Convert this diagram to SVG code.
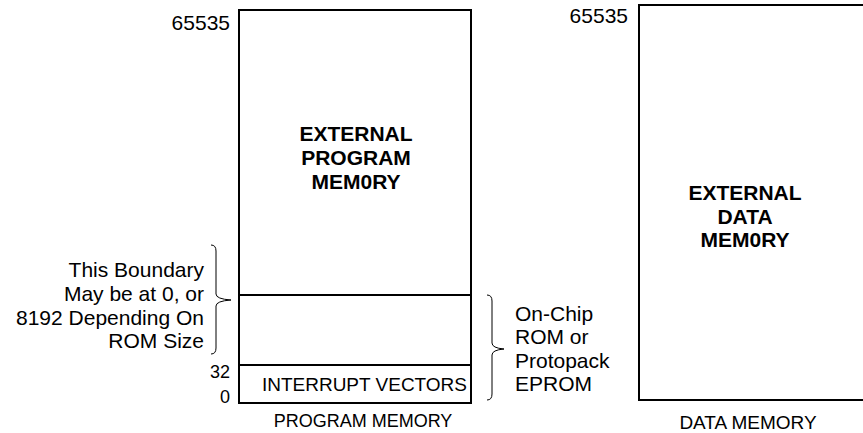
<svg xmlns="http://www.w3.org/2000/svg" width="863" height="433" viewBox="0 0 863 433">
<style>
.box{fill:none;stroke:#000;stroke-width:2}
.ln{stroke:#000;stroke-width:2}
.br{fill:none;stroke:#000;stroke-width:1}
text{font-family:"Liberation Sans",Arial,sans-serif;fill:#000}
.t21{font-size:21px}
.b{font-size:21px;font-weight:bold;text-anchor:middle}
.r{text-anchor:end}
.m{text-anchor:middle}
</style>
<rect width="863" height="433" fill="#fff"/>
<g id="program-memory">
<rect class="box" x="239" y="10" width="232" height="393"/>
<line class="ln" x1="239" y1="295" x2="471" y2="295"/>
<line class="ln" x1="239" y1="365" x2="471" y2="365"/>
<text class="b" x="356" y="141">EXTERNAL</text>
<text class="b" x="356" y="165">PROGRAM</text>
<text class="b" x="356" y="189">MEM0RY</text>
<text x="262" y="391" font-size="19" textLength="205" lengthAdjust="spacingAndGlyphs">INTERRUPT VECTORS</text>
<text class="m" x="363" y="427" font-size="18">PROGRAM MEMORY</text>
<text class="t21 r" x="230" y="30">65535</text>
<text class="r" x="230" y="378" font-size="18">32</text>
<text class="r" x="230" y="403" font-size="18">0</text>
</g>
<g id="data-memory">
<rect class="box" x="639" y="5" width="240" height="395"/>
<text class="b" x="745" y="200">EXTERNAL</text>
<text class="b" x="745" y="224">DATA</text>
<text class="b" x="745" y="247">MEM0RY</text>
<text class="m" x="748" y="429" font-size="19">DATA MEMORY</text>
<text class="t21 r" x="628" y="23">65535</text>
</g>
<g id="boundary-note">
<text class="t21 r" x="204" y="277">This Boundary</text>
<text class="t21 r" x="204" y="301">May be at 0, or</text>
<text class="t21 r" x="204" y="325">8192 Depending On</text>
<text class="t21 r" x="204" y="348">ROM Size</text>
</g>
<g id="rom-note">
<text class="t21" x="515" y="321">On-Chip</text>
<text class="t21" x="515" y="344">ROM or</text>
<text class="t21" x="515" y="368">Protopack</text>
<text class="t21" x="515" y="391">EPROM</text>
</g>
<g id="connectors">
<path class="br" d="M211,245 Q216,245 216,251 L216,294 Q216,299 231,300 Q216,301 216,306 L216,348 Q216,354 211,354"/>
<path class="br" d="M487,295 Q492,295 492,301 L492,343 Q492,348 504,349 Q492,350 492,355 L492,394 Q492,400 487,400"/>
</g>
</svg>
